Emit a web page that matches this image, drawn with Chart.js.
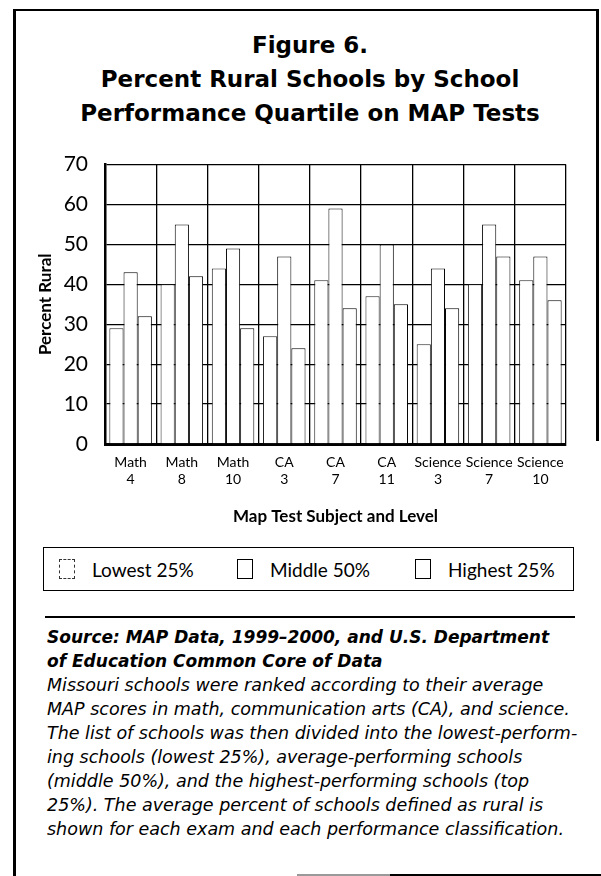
<!DOCTYPE html>
<html>
<head>
<meta charset="utf-8">
<script src="https://cdn.jsdelivr.net/npm/chart.js@4/dist/chart.umd.min.js"></script>
<style>
  html, body { margin: 0; padding: 0; background: #fff; }
  #page { position: relative; width: 601px; height: 876px; overflow: hidden; font-family: Lato, "Open Sans", sans-serif; color: #000; }
  .line { position: absolute; background: #000; }
  #title { position: absolute; left: 14px; width: 592px; top: 28px; text-align: center; font-family: "DejaVu Sans", sans-serif; font-weight: bold; font-size: 23px; line-height: 34px; }
  #chartWrap { position: absolute; left: 0; top: 135px; width: 601px; height: 405px; }
  #legend { position: absolute; left: 43px; top: 547px; width: 529px; height: 42px; border: 1.5px solid #000; }
  .lg { position: absolute; top: 0; height: 42px; display: flex; align-items: center; font-size: 19px; }
  .sw { width: 16px; height: 20px; border: 1.5px solid #000; margin-right: 17px; box-sizing: border-box; }
  .sw.dash { border: 1.2px dashed #333; }
  #notes { position: absolute; left: 47px; top: 625px; width: 545px; font-family: "DejaVu Sans", sans-serif; font-size: 17.5px; line-height: 24px; font-style: italic; white-space: nowrap; }
  #notes b { font-weight: bold; font-size: 17px; }
</style>
</head>
<body>
<div id="page">
  <div class="line" style="left:13px; top:9px; width:3px; height:867px;"></div>
  <div class="line" style="left:13px; top:9px; width:586px; height:2px;"></div>
  <div class="line" style="left:596px; top:9px; width:3px; height:432px;"></div>
  <div class="line" style="left:297px; top:874px; width:93px; height:2px; background:#999;"></div>
  <div class="line" style="left:390px; top:874px; width:211px; height:2px;"></div>

  <div id="title">Figure 6.<br>Percent Rural Schools by School<br>Performance Quartile on MAP Tests</div>

  <div id="chartWrap"><canvas id="c"></canvas></div>

  <div id="legend">
    <div class="lg" style="left:15px;"><div class="sw dash"></div>Lowest 25%</div>
    <div class="lg" style="left:193px;"><div class="sw"></div>Middle 50%</div>
    <div class="lg" style="left:371px;"><div class="sw"></div>Highest 25%</div>
  </div>

  <div class="line" style="left:45px; top:616px; width:530px; height:2px;"></div>

  <div id="notes"><b>Source: MAP Data, 1999–2000, and U.S. Department<br>of Education Common Core of Data</b><br>Missouri schools were ranked according to their average<br>MAP scores in math, communication arts (CA), and science.<br>The list of schools was then divided into the lowest-perform-<br>ing schools (lowest 25%), average-performing schools<br>(middle 50%), and the highest-performing schools (top<br>25%). The average percent of schools defined as rural is<br>shown for each exam and each performance classification.</div>
</div>

<script>
// ---- data ----
const categories = [["Math","4"],["Math","8"],["Math","10"],["CA","3"],["CA","7"],["CA","11"],["Science","3"],["Science","7"],["Science","10"]];
const seriesNames = ["Lowest 25%","Middle 50%","Highest 25%"];
const lowest25  = [29, 40, 44, 27, 41, 37, 25, 40, 41];
const middle50  = [43, 55, 49, 47, 59, 50, 44, 55, 47];
const highest25 = [32, 42, 29, 24, 34, 35, 34, 47, 36];
const yTicks = [0, 10, 20, 30, 40, 50, 60, 70];

Chart.defaults.font.family = "Lato, 'Open Sans', sans-serif";
Chart.defaults.color = "#000";

const barStyle = { backgroundColor: "#fff", borderColor: "#000", borderWidth: 1 };

new Chart(document.getElementById("c"), {
  type: "bar",
  data: {
    labels: categories,
    datasets: [
      Object.assign({ label: seriesNames[0], data: lowest25 }, barStyle, { borderColor: "#222" }),
      Object.assign({ label: seriesNames[1], data: middle50 }, barStyle),
      Object.assign({ label: seriesNames[2], data: highest25 }, barStyle)
    ]
  },
  options: {
    responsive: true,
    maintainAspectRatio: false,
    animation: false,
    events: [],
    datasets: { bar: { categoryPercentage: 0.83, barPercentage: 1.0 } },
    layout: { padding: { left: 35, right: 35, top: 22, bottom: 0 } },
    plugins: { legend: { display: false }, tooltip: { enabled: false }, title: { display: false } },
    scales: {
      x: {
        grid: { color: "#000", lineWidth: 1.3, drawTicks: false, offset: true },
        border: { color: "#000", width: 3 },
        ticks: { font: { size: 14, lineHeight: 1.2 }, padding: 10, maxRotation: 0, autoSkip: false },
        title: { display: true, text: "Map Test Subject and Level", font: { size: 17, weight: "bold" }, padding: { top: 0, bottom: 13 } },
        afterFit: (s) => { s.height = 96; }
      },
      y: {
        min: yTicks[0], max: yTicks[yTicks.length - 1],
        afterBuildTicks: (s) => { s.ticks = yTicks.map(v => ({ value: v })); },
        grid: { color: "#000", lineWidth: 1.3, drawTicks: false },
        border: { color: "#000", width: 2.5 },
        ticks: { font: { size: 21 }, padding: 17 },
        title: { display: true, text: "Percent Rural", font: { size: 17, weight: "bold" }, padding: { top: 0, bottom: 0 } },
        afterFit: (s) => { s.width = 70; }
      }
    }
  }
});
</script>
</body>
</html>
